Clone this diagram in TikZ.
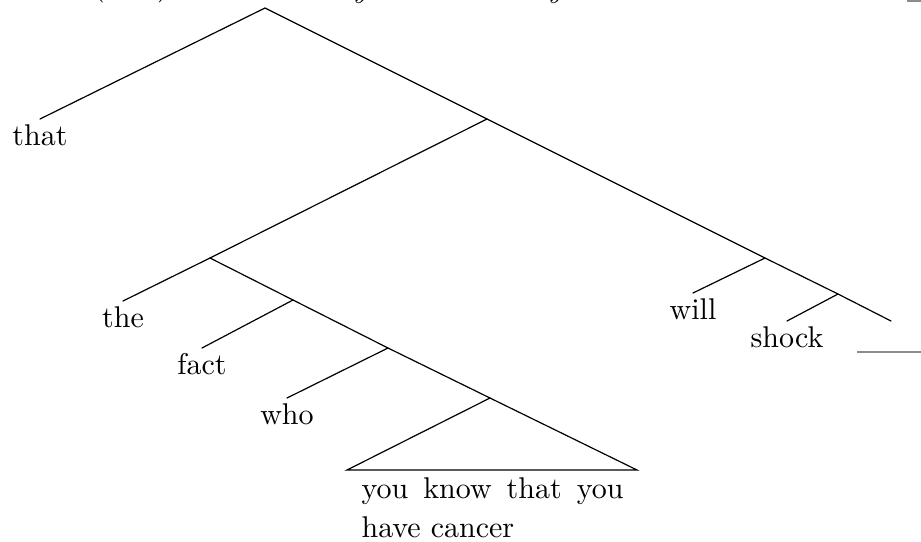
\documentclass[tikz,border=0pt]{standalone}
\begin{document}
\begin{tikzpicture}[x=0.33333pt, y=-0.33333pt,
  branch/.style={line width=0.4pt, line cap=round},
  lab/.style={anchor=base, inner sep=0pt, font=\fontsize{10}{13}\selectfont, yshift=-8.8pt},
  txt/.style={anchor=base west, inner sep=0pt, font=\fontsize{10}{13}\selectfont},
  blank/.style={line width=0.6pt, black!45}]
\useasboundingbox (0,0) rectangle (921,541);
\begin{scope}
\clip (0,0) rectangle (921,541);
% fragments of the text line above, cut off by the frame
\node[anchor=base, inner sep=0pt, font=\fontsize{10}{13}\selectfont] (fa) at (99,-4.5) {(};
\node[anchor=base, inner sep=0pt, font=\fontsize{10}{13}\selectfont] (fb) at (163,-4.5) {)};
\node[anchor=base, inner sep=0pt, font=\fontsize{10}{13}\selectfont\itshape] (fc) at (360,-3) {y};
\node[anchor=base, inner sep=0pt, font=\fontsize{10}{13}\selectfont\itshape] (fd) at (555,-3) {y};
\coordinate (ta) at (907,1);
\coordinate (tb) at (921,1);
\draw[blank] (ta) -- (tb);
\end{scope}

% tree points
\coordinate (root) at (265,8);
\coordinate (ethat) at (40,119);
\coordinate (n1) at (487,119);
\coordinate (n2) at (210,258);
\coordinate (ethe) at (123,301);
\coordinate (n3) at (293,300);
\coordinate (efact) at (202,348);
\coordinate (n4) at (388,348);
\coordinate (ewho) at (287,398);
\coordinate (n5) at (490,398);
\coordinate (tl) at (347,470);
\coordinate (tr) at (637,470);
\coordinate (n6) at (765,258);
\coordinate (ewill) at (693,293);
\coordinate (n7) at (838,294);
\coordinate (eshock) at (787,321);
\coordinate (eend) at (891,321);
\coordinate (ba) at (857,352);
\coordinate (bb) at (921,352);

% labels
\node[lab] (that) at (ethat) {that};
\node[lab] (the) at (ethe) {the};
\node[lab] (fact) at (efact) {fact};
\node[lab] (who) at (ewho) {who};
\node[lab] (will) at (ewill) {will};
\node[lab] (shock) at (eshock) {shock};
\node[txt] (l1) at (361,498) {\makebox[87.3pt][s]{you know that you}};
\node[txt] (l2) at (361,537) {have cancer};

% branches
\draw[branch] (ethat) -- (root) -- (n1) -- (n6) -- (n7) -- (eend);
\draw[branch] (n1) -- (n2) -- (ethe);
\draw[branch] (n2) -- (n3) -- (n4) -- (n5);
\draw[branch] (n3) -- (efact);
\draw[branch] (n4) -- (ewho);
\draw[branch] (n5) -- (tl) -- (tr) -- (n5);
\draw[branch] (n6) -- (ewill);
\draw[branch] (n7) -- (eshock);
\draw[blank] (ba) -- (bb);
\end{tikzpicture}
\end{document}
